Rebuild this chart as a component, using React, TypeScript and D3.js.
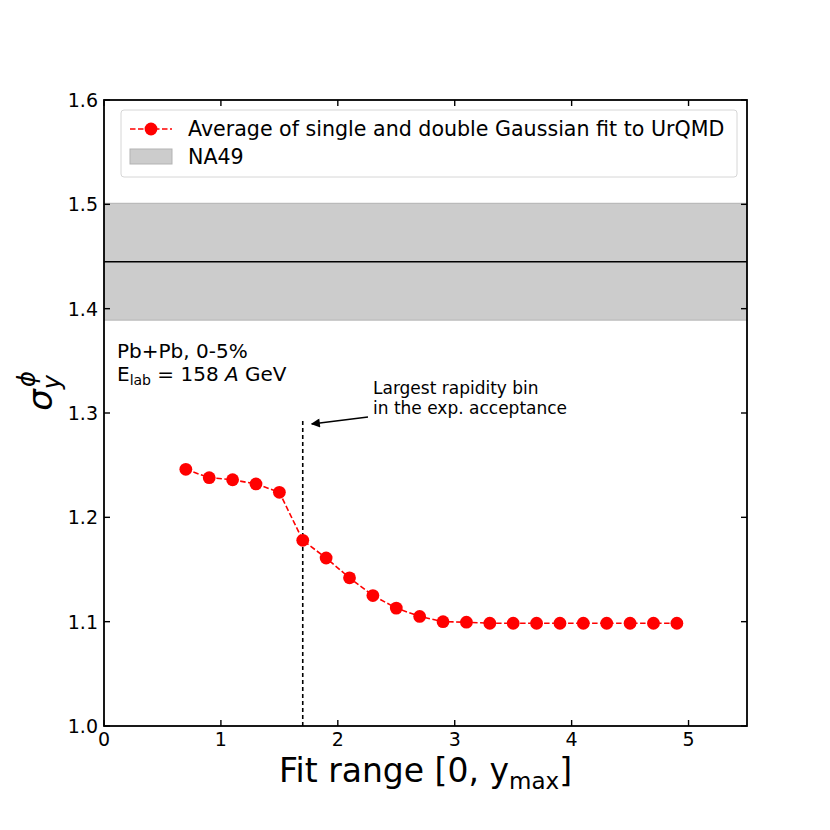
import React, { useRef, useEffect } from 'react';
import * as d3 from 'd3';

// fit range upper limits and sigma values
const yMax = [0.7, 0.9, 1.1, 1.3, 1.5, 1.7, 1.9, 2.1, 2.3, 2.5, 2.7, 2.9, 3.1, 3.3, 3.5, 3.7, 3.9, 4.1, 4.3, 4.5, 4.7, 4.9];
const sigma = [1.246, 1.238, 1.236, 1.232, 1.224, 1.178, 1.161, 1.142, 1.125, 1.113, 1.105, 1.1, 1.0995, 1.0985, 1.0985, 1.0985, 1.0985, 1.0985, 1.0985, 1.0985, 1.0985, 1.0985];
const na49 = [1.389, 1.445, 1.501]; // low, mean, high
const accCut = [1.7, 1.295]; // x, top of dashed line
const xTicks = [0, 1, 2, 3, 4, 5];
const yTicks = [1.0, 1.1, 1.2, 1.3, 1.4, 1.5, 1.6];
const legendLabels = ['Average of single and double Gaussian fit to UrQMD', 'NA49'];

const FONT = 'DejaVu Sans, sans-serif';

const App = () => {
  const svgRef = useRef(null);

  useEffect(() => {
    const width = 830;
    const height = 830;
    const margin = { top: 100, right: 83, bottom: 104, left: 104 };

    const svg = d3.select(svgRef.current);
    svg.selectAll('*').remove();
    svg.attr('width', width).attr('height', height);

    const x = d3.scaleLinear().domain([0, 5.5]).range([margin.left, width - margin.right]);
    const y = d3.scaleLinear().domain([1.0, 1.6]).range([height - margin.bottom, margin.top]);

    const defs = svg.append('defs');
    defs.append('clipPath').attr('id', 'plot-clip')
      .append('rect')
      .attr('x', x(0)).attr('y', y(1.6))
      .attr('width', x(5.5) - x(0)).attr('height', y(1.0) - y(1.6));
    defs.append('marker')
      .attr('id', 'arrowhead')
      .attr('viewBox', '0 0 10 10')
      .attr('refX', 9).attr('refY', 5)
      .attr('markerWidth', 10).attr('markerHeight', 9)
      .attr('markerUnits', 'userSpaceOnUse')
      .attr('orient', 'auto')
      .append('path').attr('d', 'M0,0 L10,5 L0,10 z').attr('fill', '#000');

    const plot = svg.append('g').attr('clip-path', 'url(#plot-clip)');

    // NA49 band
    plot.append('rect')
      .attr('x', x(0)).attr('width', x(5.5) - x(0))
      .attr('y', y(na49[2])).attr('height', y(na49[0]) - y(na49[2]))
      .attr('fill', '#cccccc')
      .attr('stroke', '#b3b3b3').attr('stroke-width', 1);
    plot.append('line')
      .attr('x1', x(0)).attr('x2', x(5.5))
      .attr('y1', y(na49[1])).attr('y2', y(na49[1]))
      .attr('stroke', '#000').attr('stroke-width', 1.6);

    // acceptance line
    plot.append('line')
      .attr('x1', x(accCut[0])).attr('x2', x(accCut[0]))
      .attr('y1', y(1.0)).attr('y2', y(accCut[1]))
      .attr('stroke', '#000').attr('stroke-width', 1.6)
      .attr('stroke-dasharray', '4,3');

    // data line + markers
    const pts = yMax.map((v, i) => [v, sigma[i]]);
    plot.append('path')
      .datum(pts)
      .attr('d', d3.line().x(d => x(d[0])).y(d => y(d[1])))
      .attr('fill', 'none')
      .attr('stroke', '#ff0000').attr('stroke-width', 1.6)
      .attr('stroke-dasharray', '5.5,2.5');
    plot.selectAll('circle.pt')
      .data(pts)
      .join('circle')
      .attr('class', 'pt')
      .attr('cx', d => x(d[0])).attr('cy', d => y(d[1]))
      .attr('r', 6.4)
      .attr('fill', '#ff0000');

    // frame
    svg.append('rect')
      .attr('x', x(0)).attr('y', y(1.6))
      .attr('width', x(5.5) - x(0)).attr('height', y(1.0) - y(1.6))
      .attr('fill', 'none').attr('stroke', '#000').attr('stroke-width', 1.8);

    // inward ticks on all sides
    const tl = 6;
    const ticks = svg.append('g').attr('stroke', '#000').attr('stroke-width', 1.4);
    xTicks.forEach(t => {
      ticks.append('line').attr('x1', x(t)).attr('x2', x(t)).attr('y1', y(1.0)).attr('y2', y(1.0) - tl);
      ticks.append('line').attr('x1', x(t)).attr('x2', x(t)).attr('y1', y(1.6)).attr('y2', y(1.6) + tl);
    });
    yTicks.forEach(t => {
      ticks.append('line').attr('x1', x(0)).attr('x2', x(0) + tl).attr('y1', y(t)).attr('y2', y(t));
      ticks.append('line').attr('x1', x(5.5)).attr('x2', x(5.5) - tl).attr('y1', y(t)).attr('y2', y(t));
    });

    // tick labels
    svg.append('g').selectAll('text')
      .data(xTicks).join('text')
      .attr('x', d => x(d)).attr('y', y(1.0) + 20)
      .attr('text-anchor', 'middle')
      .attr('font-family', FONT).attr('font-size', 19)
      .text(d => d);
    svg.append('g').selectAll('text')
      .data(yTicks).join('text')
      .attr('x', x(0) - 6).attr('y', d => y(d) + 7)
      .attr('text-anchor', 'end')
      .attr('font-family', FONT).attr('font-size', 19)
      .text(d => d.toFixed(1));

    // axis labels
    const xl = svg.append('text')
      .attr('x', (x(0) + x(5.5)) / 2).attr('y', 782)
      .attr('text-anchor', 'middle')
      .attr('font-family', FONT).attr('font-size', 33);
    xl.append('tspan').text('Fit range [0, y');
    xl.append('tspan').attr('font-size', 23).attr('dy', 7).text('max');
    xl.append('tspan').attr('dy', -7).text(']');

    const yl = svg.append('text')
      .attr('transform', `translate(52, ${y(1.3) - 22}) rotate(-90)`)
      .attr('text-anchor', 'middle')
      .attr('font-family', FONT).attr('font-size', 34);
    yl.append('tspan').attr('font-style', 'italic').text('σ');
    yl.append('tspan').attr('font-style', 'italic').attr('font-size', 24).attr('dy', 8).text('y');
    yl.append('tspan').attr('font-style', 'italic').attr('font-size', 24).attr('dx', -12).attr('dy', -25).text('ϕ');

    // system annotation
    svg.append('text')
      .attr('x', 117).attr('y', 358)
      .attr('font-family', FONT).attr('font-size', 20)
      .text('Pb+Pb, 0-5%');
    const el = svg.append('text')
      .attr('x', 117).attr('y', 381)
      .attr('font-family', FONT).attr('font-size', 20);
    el.append('tspan').text('E');
    el.append('tspan').attr('font-size', 14).attr('dy', 4).text('lab');
    el.append('tspan').attr('dy', -4).text(' = 158 ');
    el.append('tspan').attr('font-style', 'italic').text('A');
    el.append('tspan').text(' GeV');

    // arrow annotation
    svg.append('text')
      .attr('x', 373).attr('y', 394)
      .attr('font-family', FONT).attr('font-size', 17)
      .text('Largest rapidity bin');
    svg.append('text')
      .attr('x', 373).attr('y', 414)
      .attr('font-family', FONT).attr('font-size', 17)
      .text('in the exp. acceptance');
    svg.append('line')
      .attr('x1', 368).attr('y1', 417)
      .attr('x2', x(accCut[0]) + 9).attr('y2', 424)
      .attr('stroke', '#000').attr('stroke-width', 1.6)
      .attr('marker-end', 'url(#arrowhead)');

    // legend
    const lg = svg.append('g');
    lg.append('rect')
      .attr('x', 121).attr('y', 110).attr('width', 616).attr('height', 67)
      .attr('rx', 3)
      .attr('fill', '#fff').attr('fill-opacity', 0.8)
      .attr('stroke', '#d6d6d6').attr('stroke-width', 1);
    lg.append('line')
      .attr('x1', 130).attr('x2', 172).attr('y1', 129).attr('y2', 129)
      .attr('stroke', '#ff0000').attr('stroke-width', 1.6)
      .attr('stroke-dasharray', '5.5,2.5');
    lg.append('circle').attr('cx', 151).attr('cy', 129).attr('r', 6.4).attr('fill', '#ff0000');
    lg.append('rect')
      .attr('x', 130).attr('y', 149).attr('width', 42).attr('height', 15)
      .attr('fill', '#cccccc').attr('stroke', '#b3b3b3').attr('stroke-width', 1);
    lg.selectAll('text.lab')
      .data(legendLabels).join('text')
      .attr('class', 'lab')
      .attr('x', 188).attr('y', (d, i) => 136 + i * 28)
      .attr('font-family', FONT).attr('font-size', 20.6)
      .text(d => d);
  }, []);

  return <svg ref={svgRef} style={{ display: 'block', position: 'absolute', left: 0, top: 0 }}></svg>;
};

export default App;
